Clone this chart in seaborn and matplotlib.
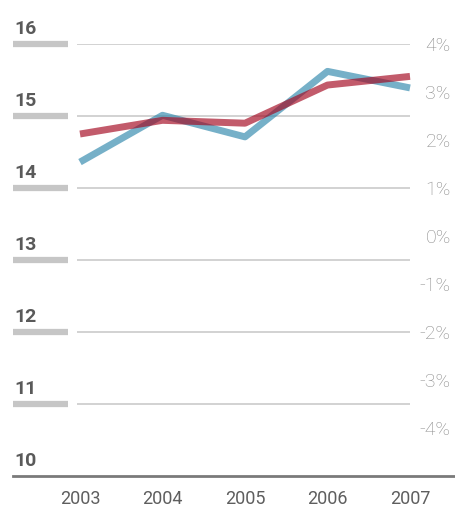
import matplotlib
matplotlib.use("Agg")
import matplotlib.pyplot as plt
import pandas as pd
import seaborn as sns

# Chart data
years = [2003, 2004, 2005, 2006, 2007]
series_blue = [14.36, 15.01, 14.71, 15.62, 15.39]
series_red = [14.75, 14.94, 14.90, 15.43, 15.55]
left_ticks = [10, 11, 12, 13, 14, 15, 16]
right_ticks = [-4, -3, -2, -1, 0, 1, 2, 3, 4]
right_labels = [f"{v}%" for v in right_ticks]

df = pd.DataFrame({
    "year": years * 2,
    "value": series_blue + series_red,
    "series": ["blue"] * len(years) + ["red"] * len(years),
})

sns.set_theme(style="white")
plt.rcParams["font.family"] = ["Roboto", "DejaVu Sans"]

W, H = 455, 516
fig = plt.figure(figsize=(W / 100, H / 100), dpi=100)
ax = fig.add_axes([13 / W, 40 / H, 442 / W, 432 / H])

px_per_year = 82.5
x_left = 2003 - 67 / px_per_year
x_right = 2007 + 45 / px_per_year
ax.set_xlim(x_left, x_right)
ax.set_ylim(10, 16)

# grid lines and thick left markers
grid_vals = [v for v in left_ticks if v > 10]
ax.hlines(grid_vals, 2003 - 3 / px_per_year, 2007, color="#d2d2d2", lw=1.4, zorder=0)
ax.hlines(grid_vals, x_left, 2003 - 12 / px_per_year, color="#c6c6c6", lw=4.5,
          zorder=0, clip_on=False)

palette = {"blue": "#2f87ac", "red": "#a3061f"}
sns.lineplot(data=df, x="year", y="value", hue="series", palette=palette,
             linewidth=5, alpha=0.66, legend=False, ax=ax,
             solid_capstyle="butt", solid_joinstyle="round")

for v in left_ticks:
    ax.annotate(str(v), xy=(x_left, v), xytext=(1, 7), textcoords="offset points",
                ha="left", va="baseline", fontsize=14, fontweight="bold",
                color="#5a5a5a", annotation_clip=False)

ax.set_yticks([])
ax.set_xticks(years)
ax.set_xticklabels([str(y) for y in years], fontsize=13, color="#5e5e5e")
ax.tick_params(axis="x", length=0, pad=10)
ax.set_xlabel("")
ax.set_ylabel("")
for side in ["top", "left", "right"]:
    ax.spines[side].set_visible(False)
ax.spines["bottom"].set_color("#7a7a7a")
ax.spines["bottom"].set_linewidth(2)

ax2 = ax.twinx()
ax2.set_ylim(-5, 4)
ax2.set_yticks(right_ticks)
ax2.set_yticklabels(right_labels, fontsize=14, fontweight="light", color="#8a8a8a")
ax2.tick_params(axis="y", length=0, pad=-3)
for lab in ax2.get_yticklabels():
    lab.set_horizontalalignment("right")
for side in ax2.spines:
    ax2.spines[side].set_visible(False)
ax2.grid(False)

fig.savefig("out.png", dpi=100, facecolor="white")
